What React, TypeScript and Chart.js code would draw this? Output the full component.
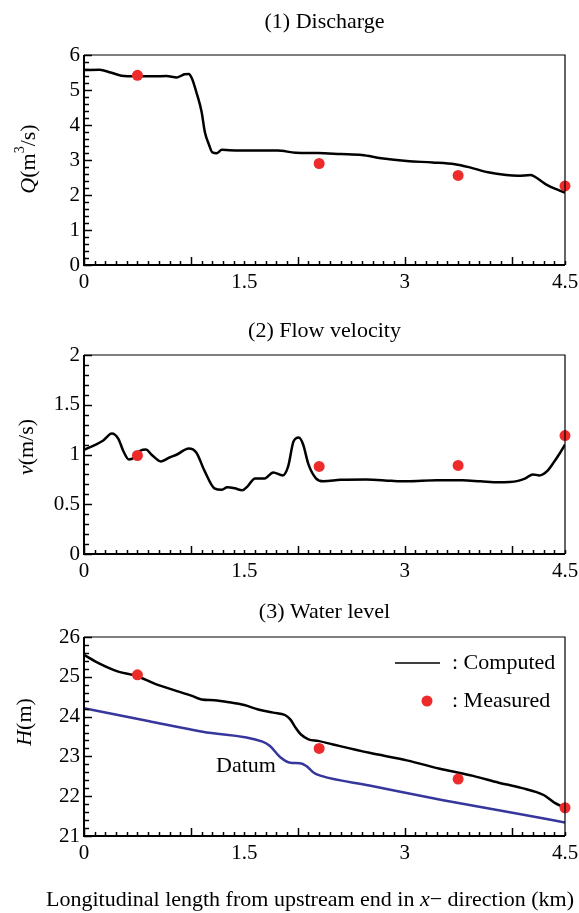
import React, { useEffect, useRef } from 'react';
import { Chart, registerables } from 'chart.js';
Chart.register(...registerables);

const FONT = '"Liberation Serif", "Times New Roman", serif';
const RED = '#ee2b2b';
const BLUE = '#36369c';

// x positions of measured stations (km)
const measuredX = [0.5, 2.2, 3.5, 4.5];

// (1) Discharge
const qX = [0, 0.145, 0.25, 0.35, 0.49, 0.66, 0.77, 0.87, 0.94, 0.98, 1.01, 1.05, 1.1, 1.13, 1.17, 1.2, 1.24, 1.29, 1.36, 1.63, 1.81, 1.98, 2.19, 2.4, 2.6, 2.78, 3.02, 3.26, 3.47, 3.61, 3.78, 3.95, 4.06, 4.18, 4.23, 4.33, 4.44, 4.5];
const qComputed = [5.57, 5.58, 5.5, 5.41, 5.39, 5.39, 5.4, 5.36, 5.45, 5.46, 5.33, 4.95, 4.38, 3.81, 3.43, 3.22, 3.19, 3.29, 3.28, 3.27, 3.27, 3.21, 3.2, 3.17, 3.14, 3.05, 2.97, 2.93, 2.88, 2.79, 2.65, 2.57, 2.55, 2.57, 2.5, 2.29, 2.14, 2.07];
const qMeasured = [5.42, 2.9, 2.56, 2.26];

// (2) Flow velocity
const vX = [0, 0.11, 0.18, 0.26, 0.32, 0.37, 0.42, 0.47, 0.53, 0.58, 0.63, 0.72, 0.8, 0.87, 0.98, 1.05, 1.13, 1.22, 1.29, 1.34, 1.41, 1.48, 1.53, 1.6, 1.69, 1.77, 1.86, 1.91, 1.96, 2.01, 2.05, 2.1, 2.17, 2.24, 2.4, 2.64, 2.88, 3.02, 3.3, 3.54, 3.71, 3.88, 4.06, 4.13, 4.2, 4.26, 4.33, 4.4, 4.45, 4.5];
const vComputed = [1.047, 1.1, 1.14, 1.21, 1.16, 1.03, 0.95, 0.97, 1.04, 1.05, 1.0, 0.93, 0.97, 1.0, 1.06, 1.02, 0.83, 0.66, 0.645, 0.67, 0.66, 0.64, 0.68, 0.76, 0.76, 0.82, 0.79, 0.88, 1.13, 1.17, 1.1, 0.9, 0.76, 0.73, 0.745, 0.75, 0.735, 0.73, 0.74, 0.74, 0.73, 0.72, 0.735, 0.76, 0.8, 0.79, 0.83, 0.93, 1.01, 1.1];
const vMeasured = [0.99, 0.88, 0.89, 1.19];

// (3) Water level
const hX = [0, 0.145, 0.32, 0.49, 0.66, 0.87, 1.01, 1.1, 1.22, 1.36, 1.5, 1.63, 1.77, 1.88, 1.93, 1.98, 2.03, 2.1, 2.19, 2.33, 2.67, 3.02, 3.36, 3.64, 3.88, 4.09, 4.3, 4.4, 4.5];
const hComputed = [25.55, 25.33, 25.13, 25.02, 24.83, 24.64, 24.52, 24.43, 24.41, 24.36, 24.29, 24.18, 24.1, 24.04, 23.93, 23.72, 23.55, 23.43, 23.39, 23.3, 23.09, 22.9, 22.67, 22.51, 22.34, 22.21, 22.03, 21.84, 21.71];
const datumX = [0, 0.6, 1.11, 1.67, 1.74, 1.84, 1.93, 2.02, 2.08, 2.15, 2.22, 2.67, 3.36, 4.06, 4.5];
const datumH = [24.21, 23.89, 23.62, 23.37, 23.26, 22.97, 22.84, 22.83, 22.76, 22.59, 22.51, 22.27, 21.9, 21.56, 21.34];
const hMeasured = [25.05, 23.2, 22.43, 21.71];

const xTickLabels = ['0', '1.5', '3', '4.5'];

type Part = { t: string; italic?: boolean; sup?: boolean };

function drawRich(ctx: CanvasRenderingContext2D, parts: Part[], cx: number, cy: number, size: number, rotate: boolean) {
  ctx.save();
  ctx.translate(cx, cy);
  if (rotate) ctx.rotate(-Math.PI / 2);
  ctx.textBaseline = 'middle';
  ctx.textAlign = 'left';
  ctx.fillStyle = '#000';
  const fontFor = (p: Part) => `${p.italic ? 'italic ' : ''}${p.sup ? Math.round(size * 0.62) : size}px ${FONT}`;
  let total = 0;
  const widths = parts.map((p) => {
    ctx.font = fontFor(p);
    const w = ctx.measureText(p.t).width;
    total += w;
    return w;
  });
  let x = -total / 2;
  parts.forEach((p, i) => {
    ctx.font = fontFor(p);
    ctx.fillText(p.t, x, p.sup ? -size * 0.38 : 0);
    x += widths[i];
  });
  ctx.restore();
}

type PanelCfg = {
  title: string;
  titleY: number;
  yTitle: Part[];
  yTitlePos: [number, number];
  yMin: number;
  yMax: number;
  yStep: number;
  yLabel: (v: number) => string;
  yMajor: (v: number) => boolean;
  datasets: any[];
  padTop: number;
  xAxisH: number;
  height: number;
  extra?: (chart: any) => void;
};

function makeFramePlugin(cfg: PanelCfg) {
  return {
    id: 'frameTicks',
    afterDraw(chart: any) {
      const { ctx, chartArea: a, scales } = chart;
      const xs = scales.x;
      const ys = scales.y;
      ctx.save();
      ctx.strokeStyle = '#000';
      ctx.lineWidth = 1.5;
      xs.ticks.forEach((t: any) => {
        const px = Math.round(xs.getPixelForValue(t.value)) + 0.5;
        const k = Math.round(t.value * 10);
        const len = k % 10 === 0 ? 8 : 4;
        ctx.beginPath();
        ctx.moveTo(px, a.bottom);
        ctx.lineTo(px, a.bottom - len);
        ctx.stroke();
      });
      ys.ticks.forEach((t: any) => {
        const py = Math.round(ys.getPixelForValue(t.value)) + 0.5;
        const len = cfg.yMajor(t.value) ? 8 : 5;
        ctx.beginPath();
        ctx.moveTo(a.left, py);
        ctx.lineTo(a.left + len, py);
        ctx.stroke();
      });
      // frame
      ctx.lineWidth = 1.2;
      ctx.beginPath();
      ctx.moveTo(a.left, a.top);
      ctx.lineTo(a.right, a.top);
      ctx.lineTo(a.right, a.bottom);
      ctx.stroke();
      ctx.lineWidth = 2;
      ctx.beginPath();
      ctx.moveTo(a.left, a.top);
      ctx.lineTo(a.left, a.bottom);
      ctx.lineTo(a.right, a.bottom);
      ctx.stroke();
      ctx.restore();
      // panel title
      drawRich(ctx, [{ t: cfg.title }], (a.left + a.right) / 2, cfg.titleY, 22, false);
      drawRich(ctx, cfg.yTitle, cfg.yTitlePos[0], cfg.yTitlePos[1], 22, true);
      if (cfg.extra) cfg.extra(chart);
    },
  };
}

function Panel({ cfg, top }: { cfg: PanelCfg; top: number }) {
  const ref = useRef<HTMLCanvasElement | null>(null);
  useEffect(() => {
    if (!ref.current) return;
    const chart = new Chart(ref.current, {
      type: 'line',
      data: { datasets: cfg.datasets },
      options: {
        animation: false,
        responsive: false,
        maintainAspectRatio: false,
        layout: { padding: { top: cfg.padTop, right: 14, left: 0, bottom: 0 } },
        plugins: { legend: { display: false }, tooltip: { enabled: false }, title: { display: false } },
        scales: {
          x: {
            type: 'linear',
            min: 0,
            max: 4.5,
            grid: { display: false, drawTicks: false },
            border: { display: false },
            ticks: {
              stepSize: 0.1,
              autoSkip: false,
              maxRotation: 0,
              padding: 5,
              color: '#000',
              font: { family: FONT, size: 21 },
              callback: (v: any) => {
                const k = Math.round(Number(v) * 10);
                return k % 15 === 0 ? xTickLabels[k / 15] : '';
              },
            },
            afterFit: (s: any) => {
              s.height = cfg.xAxisH;
              s.paddingLeft = 0;
              s.paddingRight = 0;
            },
          },
          y: {
            type: 'linear',
            min: cfg.yMin,
            max: cfg.yMax,
            grid: { display: false, drawTicks: false },
            border: { display: false },
            ticks: {
              stepSize: cfg.yStep,
              autoSkip: false,
              padding: 4,
              color: '#000',
              font: { family: FONT, size: 21 },
              callback: (v: any) => cfg.yLabel(Number(v)),
            },
            afterFit: (s: any) => {
              s.width = 84;
              s.paddingTop = 0;
              s.paddingBottom = 0;
            },
          },
        },
      },
      plugins: [makeFramePlugin(cfg)],
    } as any);
    return () => chart.destroy();
  }, []);
  return (
    <canvas
      ref={ref}
      width={579}
      height={cfg.height}
      style={{ position: 'absolute', left: 0, top, width: 579, height: cfg.height, display: 'block' }}
    />
  );
}

const pts = (xs: number[], ys: number[]) => xs.map((x, i) => ({ x, y: ys[i] }));

const measuredDs = (ys: number[]) => ({
  label: 'Measured',
  data: pts(measuredX, ys),
  showLine: false,
  pointRadius: 5.5,
  pointBackgroundColor: RED,
  pointBorderWidth: 0,
  borderColor: RED,
  backgroundColor: RED,
  clip: false,
});
const lineDs = (xs: number[], ys: number[], color: string, label: string) => ({
  label,
  data: pts(xs, ys),
  borderColor: color,
  borderWidth: 2.5,
  pointRadius: 0,
  cubicInterpolationMode: 'monotone',
  fill: false,
});

const intLabel = (v: number) => (Math.abs(v - Math.round(v)) < 1e-6 ? String(Math.round(v)) : '');
const intMajor = (v: number) => Math.abs(v - Math.round(v)) < 1e-6;
const halfLabel = (v: number) => {
  const k = Math.round(v * 10);
  return k % 5 === 0 ? String(k / 10) : '';
};
const halfMajor = (v: number) => Math.round(v * 10) % 5 === 0;

const panel1: PanelCfg = {
  title: '(1) Discharge',
  titleY: 22,
  yTitle: [{ t: 'Q', italic: true }, { t: '(m' }, { t: '3', sup: true }, { t: '/s)' }],
  yTitlePos: [29, 159],
  yMin: 0,
  yMax: 6,
  yStep: 0.2,
  yLabel: intLabel,
  yMajor: intMajor,
  datasets: [measuredDs(qMeasured), lineDs(qX, qComputed, '#000', 'Computed')],
  padTop: 55,
  xAxisH: 35,
  height: 300,
};

const panel2: PanelCfg = {
  title: '(2) Flow velocity',
  titleY: 31,
  yTitle: [{ t: 'v', italic: true }, { t: '(m/s)' }],
  yTitlePos: [27, 147],
  yMin: 0,
  yMax: 2,
  yStep: 0.1,
  yLabel: halfLabel,
  yMajor: halfMajor,
  datasets: [measuredDs(vMeasured), lineDs(vX, vComputed, '#000', 'Computed')],
  padTop: 55,
  xAxisH: 46,
  height: 300,
};

const panel3: PanelCfg = {
  title: '(3) Water level',
  titleY: 12,
  yTitle: [{ t: 'H', italic: true }, { t: '(m)' }],
  yTitlePos: [25, 122],
  yMin: 21,
  yMax: 26,
  yStep: 0.2,
  yLabel: intLabel,
  yMajor: intMajor,
  datasets: [
    measuredDs(hMeasured),
    lineDs(hX, hComputed, '#000', 'Computed'),
    lineDs(datumX, datumH, BLUE, 'Datum'),
  ],
  padTop: 37,
  xAxisH: 77,
  height: 313,
  extra: (chart: any) => {
    const { ctx, chartArea: a, scales } = chart;
    ctx.save();
    // legend
    ctx.strokeStyle = '#000';
    ctx.lineWidth = 1.5;
    ctx.beginPath();
    ctx.moveTo(a.right - 170, a.top + 26);
    ctx.lineTo(a.right - 125, a.top + 26);
    ctx.stroke();
    ctx.fillStyle = RED;
    ctx.beginPath();
    ctx.arc(a.right - 138, a.top + 64, 5.5, 0, Math.PI * 2);
    ctx.fill();
    ctx.restore();
    ctx.save();
    ctx.fillStyle = '#000';
    ctx.font = `22px ${FONT}`;
    ctx.textBaseline = 'middle';
    ctx.textAlign = 'left';
    ctx.fillText(': Computed', a.right - 113, a.top + 26);
    ctx.fillText(': Measured', a.right - 113, a.top + 64);
    ctx.textAlign = 'center';
    ctx.fillText('Datum', scales.x.getPixelForValue(1.515), scales.y.getPixelForValue(22.76));
    ctx.restore();
    // x-axis title
    drawRich(
      ctx,
      [{ t: 'Longitudinal length from upstream end in ' }, { t: 'x', italic: true }, { t: '\u2212 direction (km)' }],
      310,
      300,
      22,
      false
    );
  },
};

export default function App() {
  useEffect(() => {
    document.body.style.margin = '0';
    document.body.style.background = '#fff';
  }, []);
  return (
    <div style={{ position: 'absolute', left: 0, top: 0, width: 579, height: 913, background: '#fff' }}>
      <Panel cfg={panel1} top={0} />
      <Panel cfg={panel2} top={300} />
      <Panel cfg={panel3} top={600} />
    </div>
  );
}
